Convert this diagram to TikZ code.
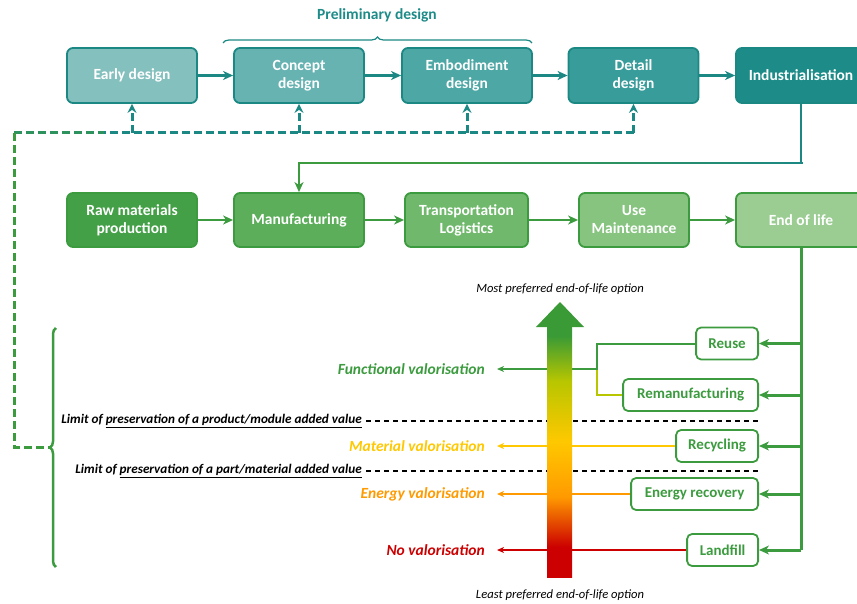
\documentclass[tikz,border=0pt]{standalone}
\usepackage{fontspec}
\setmainfont{Carlito}
\usetikzlibrary{arrows.meta,decorations.pathreplacing,calc}
\definecolor{tealB}{HTML}{1B8884}
\definecolor{tA}{HTML}{84C0BE}
\definecolor{tB}{HTML}{66B3B2}
\definecolor{tC}{HTML}{4DA7A5}
\definecolor{tD}{HTML}{389C9A}
\definecolor{tE}{HTML}{1D8B88}
\definecolor{greenB}{HTML}{3C9B3F}
\definecolor{gA}{HTML}{44A047}
\definecolor{gB}{HTML}{5CAE5B}
\definecolor{gC}{HTML}{70B96C}
\definecolor{gD}{HTML}{86C47F}
\definecolor{gE}{HTML}{9BCD93}
\definecolor{redC}{HTML}{CC0000}
\definecolor{orangeC}{HTML}{FF9A00}
\definecolor{yellowC}{HTML}{FFC800}
\definecolor{ygC}{HTML}{B8C600}
\definecolor{greenC}{HTML}{3A9A35}
\pgfdeclareverticalshading{eolgrad}{100bp}{color(0bp)=(redC); color(31bp)=(redC); color(41bp)=(orangeC); color(52bp)=(yellowC); color(64bp)=(ygC); color(73bp)=(greenC); color(100bp)=(greenC)}
\tikzset{
  box/.style={draw, rounded corners=6pt, line width=1.8pt, minimum width=130pt,
    align=center, text=white, inner sep=2pt, font=\fontsize{15.5}{18}\selectfont\bfseries},
  tbox/.style={box, draw=tealB, minimum height=55pt},
  gbox/.style={box, draw=greenB, minimum height=54pt},
  ebox/.style={draw=greenB, fill=white, rounded corners=5pt, line width=1.8pt, text=greenB,
    minimum height=32pt, inner sep=2pt, anchor=east, font=\fontsize{15}{18}\selectfont\bfseries},
  flow/.style={line width=2.5pt, -{Stealth[length=10pt,width=9pt,inset=3pt]}},
  fbdash/.style={line width=3pt, dash pattern=on 8pt off 4pt},
  fbarrow/.style={fbdash, -{Stealth[length=9pt,width=9pt,inset=3pt]}},
  bus/.style={line width=3pt, greenB},
  vlab/.style={anchor=east, inner xsep=12pt, inner ysep=2pt, font=\fontsize{15.5}{18}\selectfont\bfseries\itshape},
  vline/.style={line width=2pt},
  varrow/.style={vline, -{Stealth[length=7pt,width=6pt,inset=2pt]}},
  limtext/.style={anchor=east, inner xsep=4pt, inner ysep=1pt, font=\fontsize{13.2}{15}\selectfont\bfseries\itshape},
  limdash/.style={line width=1.3pt, dash pattern=on 5pt off 4pt},
  note/.style={font=\fontsize{12.6}{14}\selectfont\itshape}
}
\begin{document}
\begin{tikzpicture}[x=1pt,y=-1pt]
\useasboundingbox (0,0) rectangle (857,604);
\clip (0,0) rectangle (857,604);

% top row
\node[tbox, fill=tA] (early) at (132,75.5) {Early design};
\node[tbox, fill=tB] (concept) at (299,75.5) {Concept\\design};
\node[tbox, fill=tC] (embod) at (467,75.5) {Embodiment\\design};
\node[tbox, fill=tD] (detail) at (633.5,75.5) {Detail\\design};
\node[tbox, fill=tE] (indus) at (801,75.5) {Industrialisation};

\node[font=\fontsize{15.5}{18}\selectfont\bfseries, text=tE] (prelim) at (377,15) {Preliminary design};
\draw[tealB, line width=1.2pt, decorate, decoration={brace, amplitude=6pt}] (223,43) -- (532,43);

\draw[flow, tealB] (early) -- (concept);
\draw[flow, tealB] (concept) -- (embod);
\draw[flow, tealB] (embod) -- (detail);
\draw[flow, tealB] (detail) -- (indus);

% second row
\node[gbox, fill=gA] (raw) at (132,220) {Raw materials\\production};
\node[gbox, fill=gB] (manu) at (299,220) {Manufacturing};
\node[gbox, fill=gC, minimum width=123pt] (trans) at (466.5,220) {Transportation\\Logistics};
\node[gbox, fill=gD, minimum width=110pt] (use) at (634,220) {Use\\Maintenance};
\node[gbox, fill=gE] (eol) at (801,220) {End of life};

\draw[flow, greenB] (raw) -- (manu);
\draw[flow, greenB] (manu) -- (trans);
\draw[flow, greenB] (trans) -- (use);
\draw[flow, greenB] (use) -- (eol);

% industrialisation -> manufacturing
\coordinate (turn) at (802,163);
\draw[flow, greenB] (indus.south) -- (indus.south |- turn) -| (manu.north);
\foreach \i in {0,...,19} {
  \pgfmathsetmacro\xa{430+\i*18.6}
  \pgfmathsetmacro\xb{\xa+19.2}
  \pgfmathsetmacro\pc{(\i+0.5)*5}
  \draw[line width=2.5pt, tealB!\pc!greenB] (\xa,163) -- (\xb,163);
}
\draw[tealB, line width=2.5pt] (indus.south) -- ($(indus.south |- turn)+(0,1.25)$);

% feedback dashed
\coordinate (fbL) at (14,133);
\coordinate (bracetip) at (50,447);
\draw[fbdash, tealB] (fbL) -- (detail.south |- fbL);
\draw[fbdash, greenB!55!tealB] (fbL) -- ($(fbL)+(90,0)$);
\draw[fbdash, greenB] (fbL) -- (fbL |- bracetip) -- (bracetip);
\foreach \n in {early,concept,embod,detail}
  \draw[fbarrow, tealB] (\n.south |- fbL) -- (\n.south);

\draw[greenB, line width=2.5pt, decorate, decoration={brace, amplitude=6pt}] (56,567) -- (56,328);

% end-of-life boxes
\node[ebox, minimum width=62pt] (reuse) at (759,343.5) {Reuse};
\node[ebox, minimum width=135pt] (reman) at (759,395) {Remanufacturing};
\node[ebox, minimum width=82pt] (recyc) at (759,446) {Recycling};
\node[ebox, minimum width=127pt] (energy) at (759,494) {Energy recovery};
\node[ebox, minimum width=71pt] (landfill) at (759,550) {Landfill};

\draw[bus] (eol.south) -- (eol.south |- landfill.east);
\foreach \n in {reuse,reman,recyc,energy,landfill}
  \draw[bus, -{Stealth[length=10pt,width=9pt,inset=3pt]}] (eol.south |- \n.east) -- (\n.east);

% valorisation labels
\node[vlab, text=greenB] (func) at (497,369) {Functional valorisation};
\node[vlab, text=yellowC] (mat) at (497,446) {Material valorisation};
\node[vlab, text=orangeC] (ener) at (497,494) {Energy valorisation};
\node[vlab, text=redC] (novalo) at (497,550) {No valorisation};

\coordinate (fj) at (597,369);
\draw[vline, ygC] (reman.west) -| (fj);
\draw[varrow, greenB] (reuse.west) -| (fj) -- (func.east);
\draw[varrow, yellowC] (recyc.west) -- (mat.east);
\draw[varrow, orangeC] (energy.west) -- (ener.east);
\draw[varrow, redC] (landfill.west) -- (novalo.east);

% limits
\node[limtext] (lim1) at (366,421) {Limit of \underline{preservation of a product/module added value}};
\node[limtext] (lim2) at (366,471) {Limit of \underline{preservation of a part/material added value}};
\draw[limdash] (lim1.east) -- (lim1.east -| reman.east);
\draw[limdash] (lim2.east) -- (lim2.east -| reman.east);

% gradient arrow
\shade[shading=eolgrad] (547,326) rectangle (572,577);
\fill[greenC] (536,327) -- (560,302) -- (584,327) -- cycle;

\node[note] (most) at (560,289) {Most preferred end-of-life option};
\node[note] (least) at (560,595) {Least preferred end-of-life option};
\end{tikzpicture}
\end{document}
